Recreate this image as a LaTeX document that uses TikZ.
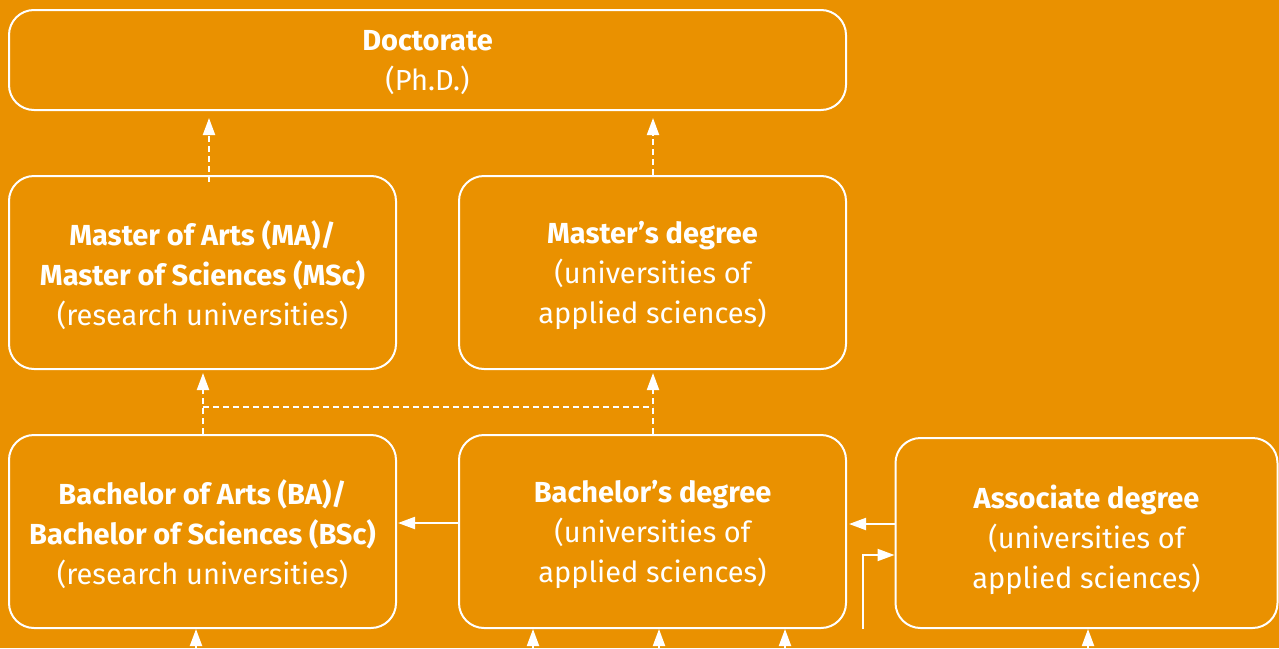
\documentclass[tikz,border=0pt]{standalone}
\usepackage{fontspec}
\setmainfont{Fira Sans}
\usetikzlibrary{arrows.meta}
\definecolor{bgorange}{HTML}{EA9100}
\tikzset{
  box/.style={draw=white, line width=2pt, rounded corners=25pt, inner sep=0pt},
  lbl/.style={align=center, text=white, inner sep=0pt, yshift=-3pt,
    font=\fontsize{29}{40}\selectfont},
  tip/.style={-{Triangle[length=17pt,width=12pt]}},
  conn/.style={draw=white, line width=2pt, tip},
  dconn/.style={draw=white, line width=2pt, dash pattern=on 6pt off 4pt},
}
\begin{document}
\begin{tikzpicture}[x=1pt,y=-1pt]
\fill[bgorange] (0,0) rectangle (1279,648);
\useasboundingbox (0,0) rectangle (1279,648);
\node[box, minimum width=837pt, minimum height=100pt,
  label={[lbl]center:{\textbf{Doctorate}\\(Ph.D.)}}] (doc) at (427.5,60) {};
\node[box, minimum width=387pt, minimum height=193pt,
  label={[lbl]center:{\textbf{Master of Arts (MA)/}\\\textbf{Master of Sciences (MSc)}\\(research universities)}}] (ma) at (202.5,272.5) {};
\node[box, minimum width=387pt, minimum height=193pt,
  label={[lbl]center:{\textbf{Master’s degree}\\(universities of\\applied sciences)}}] (mast) at (652.5,272.5) {};
\node[box, minimum width=387pt, minimum height=193pt,
  label={[lbl]center:{\textbf{Bachelor of Arts (BA)/}\\\textbf{Bachelor of Sciences (BSc)}\\(research universities)}}] (ba) at (202.5,531.5) {};
\node[box, minimum width=387pt, minimum height=193pt,
  label={[lbl]center:{\textbf{Bachelor’s degree}\\(universities of\\applied sciences)}}] (bach) at (652.5,531.5) {};
\node[box, minimum width=382pt, minimum height=190pt,
  label={[lbl, yshift=-4pt]center:{\textbf{Associate degree}\\(universities of\\applied sciences)}}] (assoc) at (1086.5,533) {};
% dashed to doctorate
\draw[dconn, tip] ([shift={(6.5,7)}]ma.north) -- ([shift={(-218.5,7)}]doc.south);
\draw[dconn, tip] ([shift={(0.5,0)}]mast.north) -- ([shift={(225.5,7)}]doc.south);
% dashed from bachelor level to master level
\draw[dconn, tip] ([shift={(0.5,0)}]ba.north) -- ([shift={(0.5,3)}]ma.south);
\draw[dconn, tip] ([shift={(0.5,0)}]bach.north) -- ([shift={(0.5,3)}]mast.south);
\draw[dconn] ([shift={(0.5,-27)}]ba.north) -- ([shift={(0.5,-27)}]bach.north);
% solid horizontal
\draw[conn] ([shift={(0,-8.5)}]bach.west) -- ([shift={(1,-8.5)}]ba.east);
\draw[conn] ([shift={(0,-9)}]assoc.west) coordinate (aw) -- ([xshift=2pt]bach.east |- aw);
\coordinate (in0) at (863,629);
\draw[conn] (in0) |- ([shift={(0,22)}]assoc.west);
% arrows from below
\coordinate (b1) at (196,648);
\coordinate (b2) at (533,648);
\coordinate (b3) at (659,648);
\coordinate (b4) at (785,648);
\coordinate (b5) at (1088,648);
\draw[conn] (b1) -- (b1 |- ba.south);
\draw[conn] (b2) -- (b2 |- bach.south);
\draw[conn] (b3) -- (b3 |- bach.south);
\draw[conn] (b4) -- (b4 |- bach.south);
\draw[conn] (b5) -- (b5 |- assoc.south);
\end{tikzpicture}
\end{document}
